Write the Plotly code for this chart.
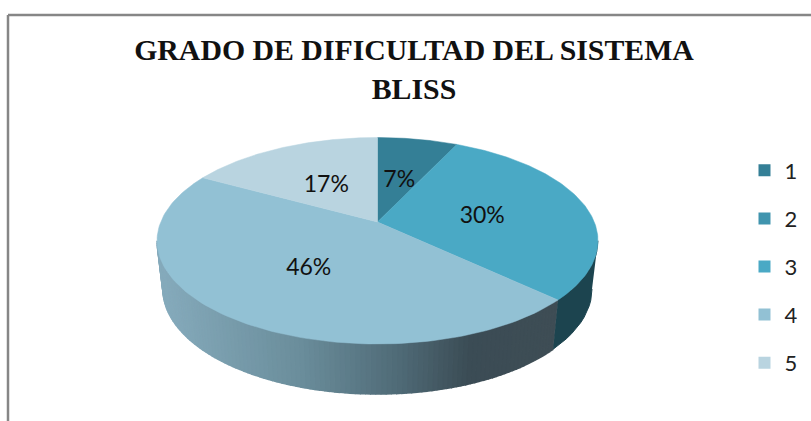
import numpy as np
import plotly.graph_objects as go

title_text = "<b>GRADO DE DIFICULTAD DEL SISTEMA<br>BLISS</b>"
categories = ["1", "2", "3", "4", "5"]
values = [7, 0, 30, 46, 17]
slice_colors = ["#347f96", "#4094ae", "#4aa9c5", "#92c1d4", "#b9d4e0"]

# projection of the tilted disc onto the page
CX, CY, A, C, K = 377.5, 222.0, 59.5, 216.8, -0.1816
BASE_XS, BASE_CY, TOP_CY, BASE_YS = 0.973, 289.0, 240.75, 1.017
LABEL_DY = 4


def top(t, r=1.0):
    u, v = r * np.sin(t), -r * np.cos(t)
    d = 1 + K * v
    return CX + C * u / d, (CY + A * v) / d


def base(t):
    x, y = top(t)
    return CX + (x - CX) * BASE_XS, BASE_CY + (y - TOP_CY) * BASE_YS


def lerp_color(x, stops):
    xs = [s[0] for s in stops]
    rgb = [np.interp(x, xs, [s[1][i] for s in stops]) for i in range(3)]
    return "rgb(%d,%d,%d)" % tuple(int(round(c)) for c in rgb)


GRAD = [(163, (133, 170, 187)), (300, (106, 141, 155)), (400, (79, 106, 118)),
        (470, (59, 76, 85)), (557, (62, 77, 85))]
WALL_DARK = "#1c444f"

total = sum(values)
edges = 2 * np.pi * np.cumsum([0] + values) / total
mids = (edges[:-1] + edges[1:]) / 2

fig = go.Figure()


def wall(t0, t1, color, lw=1.0):
    ts = np.linspace(t0, t1, 12)
    xt, yt = top(ts)
    xb, yb = base(ts)
    fig.add_trace(go.Scatter(
        x=np.r_[xt, xb[::-1]], y=np.r_[yt, yb[::-1]], mode="lines", fill="toself",
        fillcolor=color, line=dict(color=color, width=lw), showlegend=False, hoverinfo="skip"))


T_RIGHT = np.arccos(K)  # widest point of the ellipse
T_LEFT = 2 * np.pi - T_RIGHT
seam = edges[3]
wall(T_RIGHT, seam, WALL_DARK)
steps = np.linspace(seam, T_LEFT, 111)
for a, b in zip(steps[:-1], steps[1:]):
    wall(a, b, lerp_color(top((a + b) / 2)[0], GRAD), lw=1.6)

for i, v in enumerate(values):
    if v == 0:
        continue
    ts = np.linspace(edges[i], edges[i + 1], 120)
    xa, ya = top(ts)
    fig.add_trace(go.Scatter(
        x=np.r_[CX, xa, CX], y=np.r_[CY, ya, CY], mode="lines", fill="toself",
        fillcolor=slice_colors[i], line=dict(color=slice_colors[i], width=0.5),
        showlegend=False, hoverinfo="text", text=f"{categories[i]}: {v}%"))

lab = [i for i, v in enumerate(values) if v > 0]
lx, ly = top(mids[lab], 0.5)
fig.add_trace(go.Scatter(
    x=lx, y=ly + LABEL_DY, mode="text", text=[f"{values[i]}%" for i in lab],
    textfont=dict(family="Lato", size=23, color="#111111"), showlegend=False, hoverinfo="skip"))

for name, col in zip(categories, slice_colors):
    fig.add_trace(go.Scatter(
        x=[None], y=[None], mode="markers", name=name, legendgroup=name,
        marker=dict(symbol="square", size=19, color=col)))

fig.update_layout(
    width=811, height=421, margin=dict(l=0, r=0, t=0, b=0),
    paper_bgcolor="white", plot_bgcolor="white",
    title=dict(text=title_text, x=414 / 811, xanchor="center", y=1 - 60 / 421, yanchor="top",
               font=dict(family="Liberation Serif", size=29.8, color="#111111")),
    xaxis=dict(range=[0, 811], visible=False, fixedrange=True),
    yaxis=dict(range=[421, 0], visible=False, fixedrange=True),
    legend=dict(x=0.918, xanchor="left", y=1 - 149.5 / 421, yanchor="top",
                tracegroupgap=16.5, font=dict(family="Lato", size=22, color="#222222"),
                bgcolor="rgba(0,0,0,0)", itemsizing="constant"),
    shapes=[
        dict(type="line", xref="paper", yref="paper", x0=8 / 811, x1=1, y0=1 - 15 / 421, y1=1 - 15 / 421,
             line=dict(color="#868686", width=2.5)),
        dict(type="line", xref="paper", yref="paper", x0=8 / 811, x1=8 / 811, y0=0, y1=1 - 15 / 421,
             line=dict(color="#868686", width=2.5)),
    ],
)

fig.write_html("out.html", config=dict(displayModeBar=False),
               post_script="document.body.style.margin='0';")
